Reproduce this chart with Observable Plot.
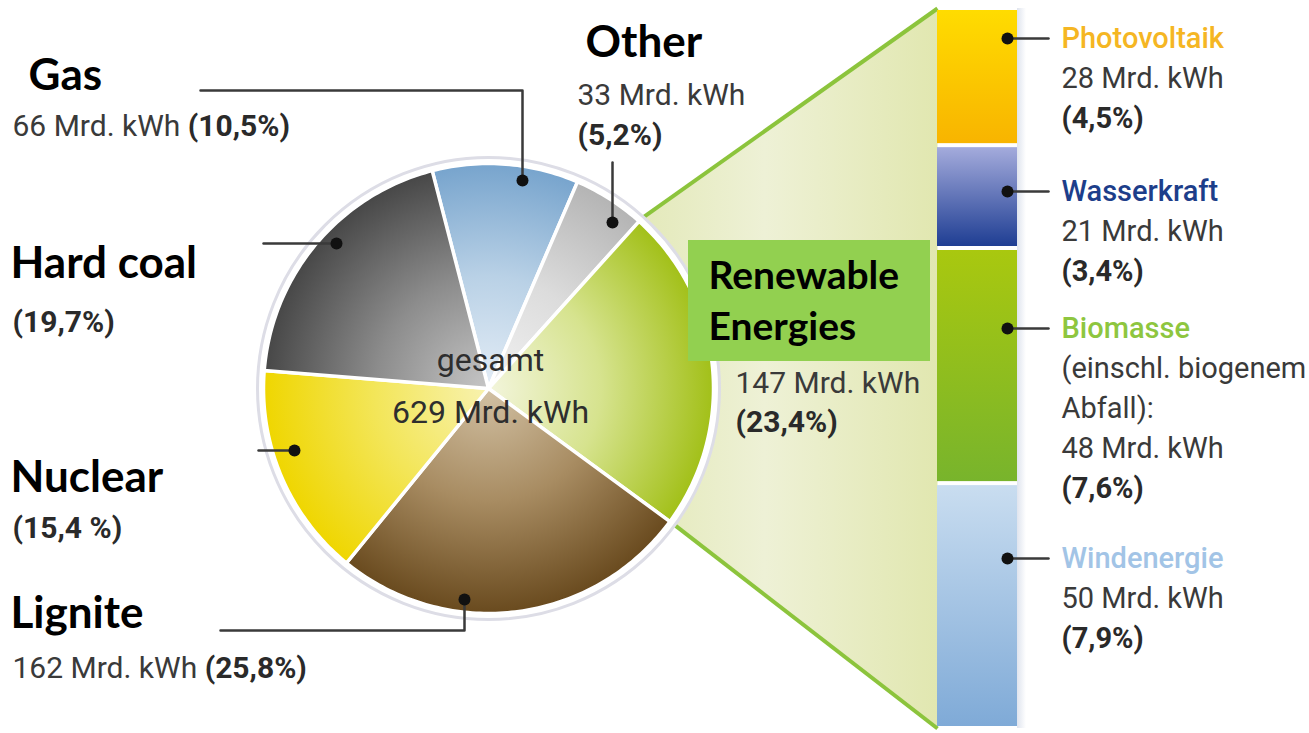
<!DOCTYPE html>
<html><head><meta charset="utf-8">
<script src="https://cdn.jsdelivr.net/npm/d3@7"></script>
<script src="https://cdn.jsdelivr.net/npm/@observablehq/plot@0.6"></script>
<style>
html,body{margin:0;padding:0;background:#fff;overflow:hidden}
svg{display:block}
</style></head><body><div id="chart"></div>
<script>
// ---------------- data ----------------
const total = 629;                       // Mrd. kWh
const sources = ["Gas", "Other", "Renewable Energies", "Lignite", "Nuclear", "Hard coal"];
const shares = [10.5, 5.2, 23.4, 25.8, 15.4, 19.7];          // %
const energy = [66, 33, 147, 162, null, null];               // Mrd. kWh
const shareLabels = ["(10,5%)", "(5,2%)", "(23,4%)", "(25,8%)", "(15,4 %)", "(19,7%)"];

const renewables = ["Photovoltaik", "Wasserkraft", "Biomasse", "Windenergie"];
const renewableEnergy = [28, 21, 48, 50];                    // Mrd. kWh
const renewableShareLabels = ["(4,5%)", "(3,4%)", "(7,6%)", "(7,9%)"];
const renewableNotes = [[], [], ["(einschl. biogenem", "Abfall):"], []];

// ---------------- layout / style ----------------
const W = 1309, H = 733;
const CX = 488, CY = 388, R = 225;       // pie centre & radius
const START = -14.5;                     // start angle (deg, clockwise from north)
const BX0 = 937, BX1 = 1017, BTOP = 8, BBOT = 728;   // renewable bar
const SMALL = "Roboto, 'DejaVu Sans', sans-serif";
const BIG = "Lato, 'Open Sans', sans-serif";
const textColor = "#3a3a3a";

const pieColors = [
  ["#e4edf6", "#b9d1e6", "#77a4cd"],
  ["#f2f2f2", "#dcdcdc", "#b4b4b4"],
  ["#f3f5dc", "#d6e38e", "#a2c018"],
  ["#d2c1a4", "#a88c62", "#694a1e"],
  ["#f8f2b0", "#f3e65a", "#efd600"],
  ["#c6c6c6", "#8c8c8c", "#474747"]
];
const barColors = [
  ["#ffdc00", "#f8b400"],
  ["#a4abdc", "#1f3e93"],
  ["#a9c80f", "#78b42c"],
  ["#c9ddf0", "#7faad7"]
];
const renewableTitleColors = ["#f5b623", "#1d3e8a", "#8ec63f", "#a2c4e6"];

// pie label layout
const pieLayout = [
  {title: [28, 75], lines: [{x: 12, y: 126, inline: true}], leader: [[200, 90], [522, 90], [522, 180]]},
  {title: [585, 42], lines: [{x: 577, y: 95}, {x: 577, y: 135}], leader: [[612, 162], [612, 222]]},
  {title: null, lines: [{x: 735, y: 383}, {x: 735, y: 422}], leader: null},
  {title: [10, 613], lines: [{x: 12, y: 668, inline: true}], leader: [[220, 630], [464, 630], [464, 599]]},
  {title: [10, 477], lines: [{x: 12, y: 528}], leader: [[258, 450], [294, 450]]},
  {title: [10, 263], lines: [{x: 12, y: 322}], leader: [[263, 243], [336, 243]]}
];
const renewLayout = {x: 1061, dotX: 1007, lineX: 1048, titleY: [38, 191, 328, 558], lineGap: 40};

// ---------------- derived geometry ----------------
const rad = a => a * Math.PI / 180;
const polar = (a, r) => ({x: CX + r * Math.sin(rad(a)), y: CY - r * Math.cos(rad(a))});
let acc = START;
const slices = sources.map((s, i) => {
  const a0 = acc, a1 = acc + shares[i] / 100 * 360; acc = a1;
  return {name: s, i, a0, a1};
});
const wedge = s => {
  const pts = [{x: CX, y: CY}];
  const n = Math.max(2, Math.ceil(s.a1 - s.a0));
  for (let k = 0; k <= n; k++) pts.push(polar(s.a0 + (s.a1 - s.a0) * k / n, R));
  return pts;
};
const ren = slices[2];
const funnel = [polar(ren.a0, R + 4), {x: BX0, y: BTOP}, {x: BX0, y: BBOT}, polar(ren.a1, R + 4), {x: CX, y: CY}];
const funnelEdges = [
  {p: polar(ren.a0, R + 4), q: {x: BX0, y: BTOP}},
  {p: polar(ren.a1, R + 4), q: {x: BX0, y: BBOT}}
];
const renTotal = d3.sum(renewableEnergy);
let cum = 0;
const barSegs = renewables.map((r, i) => {
  const y1 = BTOP + cum / renTotal * (BBOT - BTOP);
  cum += renewableEnergy[i];
  const y2 = BTOP + cum / renTotal * (BBOT - BTOP);
  return {name: r, i, y1, y2};
});

// text measuring
const ctx = document.createElement("canvas").getContext("2d");
const measure = (t, size, weight, fam) => { ctx.font = `${weight} ${size}px ${fam}`; return ctx.measureText(t).width; };

const SZ = 30, SZR = 29;
const normalTexts = [], boldTexts = [], titleTexts = [];
slices.forEach((s, i) => {
  const L = pieLayout[i];
  if (L.title) titleTexts.push({x: L.title[0], y: L.title[1], t: s.name});
  const eText = energy[i] != null ? `${energy[i]} Mrd. kWh` : null;
  if (L.lines.length === 1 && L.lines[0].inline && eText) {
    const l = L.lines[0];
    normalTexts.push({x: l.x, y: l.y, t: eText, s: SZ});
    boldTexts.push({x: l.x + measure(eText + " ", SZ, 400, SMALL), y: l.y, t: shareLabels[i], s: SZ});
  } else if (L.lines.length === 2) {
    normalTexts.push({x: L.lines[0].x, y: L.lines[0].y, t: eText, s: SZ});
    boldTexts.push({x: L.lines[1].x, y: L.lines[1].y, t: shareLabels[i], s: SZ});
  } else {
    boldTexts.push({x: L.lines[0].x, y: L.lines[0].y, t: shareLabels[i], s: SZ});
  }
});
const renTitles = [];
renewables.forEach((r, i) => {
  const y0 = renewLayout.titleY[i];
  renTitles.push({x: renewLayout.x, y: y0, t: r, c: renewableTitleColors[i]});
  let k = 1;
  renewableNotes[i].forEach(n => normalTexts.push({x: renewLayout.x, y: y0 + renewLayout.lineGap * k++, t: n, s: SZR}));
  normalTexts.push({x: renewLayout.x, y: y0 + renewLayout.lineGap * k++, t: `${renewableEnergy[i]} Mrd. kWh`, s: SZR});
  boldTexts.push({x: renewLayout.x, y: y0 + renewLayout.lineGap * k++, t: renewableShareLabels[i], s: SZR});
});

const leaders = [];
const leaderDots = [];
slices.forEach((s, i) => {
  const L = pieLayout[i].leader;
  if (!L) return;
  L.forEach(p => leaders.push({z: s.name, x: p[0], y: p[1]}));
  leaderDots.push({x: L[L.length - 1][0], y: L[L.length - 1][1]});
});
renewables.forEach((r, i) => {
  const y = renewLayout.titleY[i];
  leaders.push({z: r, x: renewLayout.dotX, y}, {z: r, x: renewLayout.lineX, y});
  leaderDots.push({x: renewLayout.dotX, y});
});

const textOpts = (extra) => Object.assign({x: "x", y: "y", text: "t", textAnchor: "start", lineAnchor: "middle"}, extra);

// ---------------- plot ----------------
const marks = [
  // funnel to renewable bar
  Plot.line(funnel, {x: "x", y: "y", curve: "linear-closed", fill: "url(#funnelGrad)", stroke: "none"}),
  Plot.link(funnelEdges, {x1: d => d.p.x, y1: d => d.p.y, x2: d => d.q.x, y2: d => d.q.y, stroke: "#8cc43c", strokeWidth: 4}),
  // bar shadow
  Plot.rect([0], {x1: () => BX1, x2: () => BX1 + 9, y1: () => BTOP, y2: () => BBOT, fill: "url(#shadowGrad)"}),
  // pie halo
  Plot.dot([{x: CX, y: CY}], {x: "x", y: "y", r: R + 6, fill: "white", stroke: "#dddde6", strokeWidth: 3}),
  // wedges
  ...slices.map(s => Plot.line(wedge(s), {x: "x", y: "y", curve: "linear-closed", fill: `url(#pie${s.i})`, stroke: "white", strokeWidth: 3.5, strokeLinejoin: "round"})),
  // bar segments
  ...barSegs.map(b => Plot.rect([b], {x1: () => BX0, x2: () => BX1, y1: "y1", y2: "y2", fill: `url(#bar${b.i})`, insetTop: 2, insetBottom: 2})),
  // renewable label box
  Plot.rect([0], {x1: () => 688, x2: () => 930, y1: () => 240, y2: () => 361, fill: "#92d050"}),
  // leaders
  Plot.line(leaders, {x: "x", y: "y", z: "z", stroke: "#3a3a3a", strokeWidth: 2.5}),
  Plot.dot(leaderDots, {x: "x", y: "y", r: 6, fill: "#111", stroke: "none"}),
  // centre label
  Plot.text(["gesamt", `${total} Mrd. kWh`], {x: () => CX + 2, y: (d, i) => i === 0 ? 360 : 412, text: d => d, textAnchor: "middle", lineAnchor: "middle", fontSize: 32, fontFamily: SMALL, fill: "#2e2e2e"}),
  // texts
  Plot.text(titleTexts, textOpts({fontSize: 44, fontWeight: "bold", fontFamily: BIG, fill: "#000"})),
  Plot.text(["Renewable", "Energies"], {x: () => 708, y: (d, i) => i === 0 ? 276 : 327, text: d => d, textAnchor: "start", lineAnchor: "middle", fontSize: 39, fontWeight: "bold", fontFamily: BIG, fill: "#000"}),
  Plot.text(normalTexts.filter(d => d.s === SZ), textOpts({fontSize: SZ, fontFamily: SMALL, fill: textColor})),
  Plot.text(normalTexts.filter(d => d.s === SZR), textOpts({fontSize: SZR, fontFamily: SMALL, fill: textColor})),
  Plot.text(boldTexts.filter(d => d.s === SZ), textOpts({fontSize: SZ, fontWeight: "bold", fontFamily: SMALL, fill: "#2a2a2a"})),
  Plot.text(boldTexts.filter(d => d.s === SZR), textOpts({fontSize: SZR, fontWeight: "bold", fontFamily: SMALL, fill: "#2a2a2a"})),
  Plot.text(renTitles, textOpts({fontSize: SZR, fontWeight: 500, fontFamily: SMALL, fill: d => d.c}))
];

const chart = Plot.plot({
  width: W, height: H, margin: 0,
  x: {domain: [0, W], range: [0, W], axis: null},
  y: {domain: [0, H], range: [0, H], axis: null},
  color: {type: "identity"},
  style: {background: "white", overflow: "visible"},
  marks
});

// gradients
const defs = d3.select(chart).insert("defs", ":first-child");
pieColors.forEach((c, i) => {
  const g = defs.append("radialGradient").attr("id", `pie${i}`).attr("gradientUnits", "userSpaceOnUse")
    .attr("cx", CX).attr("cy", CY).attr("r", R);
  g.append("stop").attr("offset", 0).attr("stop-color", c[0]);
  g.append("stop").attr("offset", 0.5).attr("stop-color", c[1]);
  g.append("stop").attr("offset", 1).attr("stop-color", c[2]);
});
barColors.forEach((c, i) => {
  const g = defs.append("linearGradient").attr("id", `bar${i}`).attr("x1", 0).attr("y1", 0).attr("x2", 0).attr("y2", 1);
  g.append("stop").attr("offset", 0).attr("stop-color", c[0]);
  g.append("stop").attr("offset", 1).attr("stop-color", c[1]);
});
{
  const g = defs.append("linearGradient").attr("id", "funnelGrad").attr("gradientUnits", "userSpaceOnUse")
    .attr("x1", CX + R * 0.6).attr("y1", 0).attr("x2", BX0).attr("y2", 0);
  g.append("stop").attr("offset", 0).attr("stop-color", "#e2e8b6");
  g.append("stop").attr("offset", 0.45).attr("stop-color", "#eef1d6");
  g.append("stop").attr("offset", 1).attr("stop-color", "#e1e7b0");
  const s = defs.append("linearGradient").attr("id", "shadowGrad").attr("x1", 0).attr("y1", 0).attr("x2", 1).attr("y2", 0);
  s.append("stop").attr("offset", 0).attr("stop-color", "#dfe4ee");
  s.append("stop").attr("offset", 1).attr("stop-color", "#ffffff");
}
document.getElementById("chart").appendChild(chart);
</script>
</body></html>
